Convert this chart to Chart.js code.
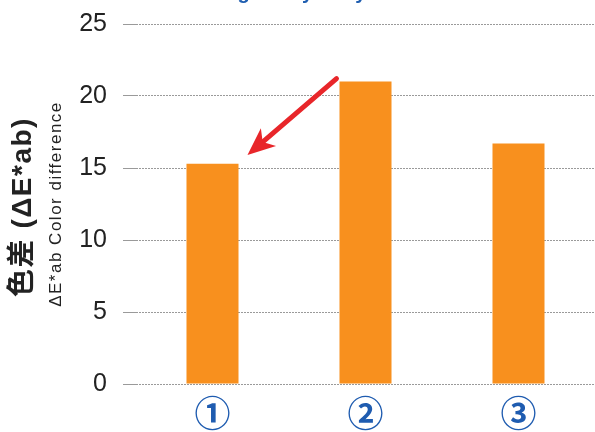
<!DOCTYPE html>
<html>
<head>
<meta charset="utf-8">
<script src="https://cdn.jsdelivr.net/npm/chart.js@4"></script>
<style>
  html, body { margin: 0; padding: 0; background: #fff; overflow: hidden; }
  #wrap { width: 595px; height: 432px; }
  canvas { display: block; }
</style>
</head>
<body>
<div id="wrap"><canvas id="chart_color_diff"></canvas></div>
<script>
// data
const categories = ["①", "②", "③"];
const colorDiff = [15.3, 21.0, 16.7];
const yTicks = [0, 5, 10, 15, 20, 25];
const titleText = "Staining ability of dyestuffs";
const yTitleMain = "色差 (ΔE*ab)";
const yTitleSub = "ΔE*ab Color difference";

// rotated axis titles + cut-off title + red arrow
const extras = {
    id: "extras",
    afterDraw(chart) {
        const ctx = chart.ctx;
        const x = chart.scales.x, y = chart.scales.y;
        ctx.save();

        // title, mostly cut by the top edge
        ctx.fillStyle = "#1f5eb0";
        ctx.font = "bold 20px 'Liberation Sans', Arial, sans-serif";
        ctx.textAlign = "right";
        ctx.textBaseline = "alphabetic";
        ctx.fillText(titleText, 432, -1);

        // y-axis titles
        ctx.fillStyle = "#222";
        ctx.textAlign = "center";
        ctx.textBaseline = "middle";
        ctx.translate(23, 207);
        ctx.rotate(-Math.PI / 2);
        ctx.letterSpacing = "1.5px";
        ctx.font = "bold 28px 'Liberation Sans', 'Noto Sans CJK JP', sans-serif";
        ctx.fillText(yTitleMain, 0, 0);
        ctx.font = "17px 'Liberation Sans', Arial, sans-serif";
        ctx.fillText(yTitleSub, 3, 33);
        ctx.letterSpacing = "0px";
        ctx.setTransform(1, 0, 0, 1, 0, 0);

        // arrow from bar 2 towards top of bar 1
        const x0 = x.getPixelForValue(1) - 29, y0 = y.getPixelForValue(21.2);
        const x1 = x.getPixelForValue(0) + 35, y1 = y.getPixelForValue(15.9);
        const ang = Math.atan2(y1 - y0, x1 - x0);
        ctx.strokeStyle = "#e8262a";
        ctx.fillStyle = "#e8262a";
        ctx.lineWidth = 5;
        ctx.lineCap = "round";
        ctx.beginPath();
        ctx.moveTo(x0, y0);
        ctx.lineTo(x1 - 16 * Math.cos(ang), y1 - 16 * Math.sin(ang));
        ctx.stroke();
        ctx.beginPath();
        ctx.moveTo(x1, y1);
        ctx.lineTo(x1 - 30 * Math.cos(ang - 0.4), y1 - 30 * Math.sin(ang - 0.4));
        ctx.lineTo(x1 - 20 * Math.cos(ang), y1 - 20 * Math.sin(ang));
        ctx.lineTo(x1 - 30 * Math.cos(ang + 0.4), y1 - 30 * Math.sin(ang + 0.4));
        ctx.closePath();
        ctx.fill();
        ctx.restore();
    }
};

new Chart(document.getElementById("chart_color_diff"), {
    type: "bar",
    data: {
        labels: categories,
        datasets: [{
            data: colorDiff,
            backgroundColor: "#f8901e",
            barPercentage: 0.34,
            categoryPercentage: 1
        }]
    },
    options: {
        responsive: true,
        maintainAspectRatio: false,
        animation: false,
        layout: { padding: { top: 24, right: 0, left: 0, bottom: 0 } },
        plugins: {
            legend: { display: false },
            tooltip: { enabled: false }
        },
        scales: {
            x: {
                grid: { display: false },
                border: { display: false },
                ticks: {
                    color: "#1f5cb0",
                    padding: 0,
                    font: { family: "'Noto Sans CJK JP', sans-serif", size: 36, weight: "bold" }
                },
                afterFit: s => { s.height = 48; }
            },
            y: {
                min: 0,
                max: 25,
                afterBuildTicks: s => { s.ticks = yTicks.map(v => ({ value: v })); },
                border: { display: false, dash: [2, 1] },
                grid: {
                    color: "#9a9a9a",
                    lineWidth: 1,
                    tickLength: 13
                },
                ticks: {
                    color: "#222",
                    padding: 16,
                    font: { family: "'Liberation Sans', Arial, sans-serif", size: 25 }
                },
                afterFit: s => { s.width = 136; s.paddingTop = 0; s.paddingBottom = 0; }
            }
        }
    },
    plugins: [extras]
});
</script>
</body>
</html>
